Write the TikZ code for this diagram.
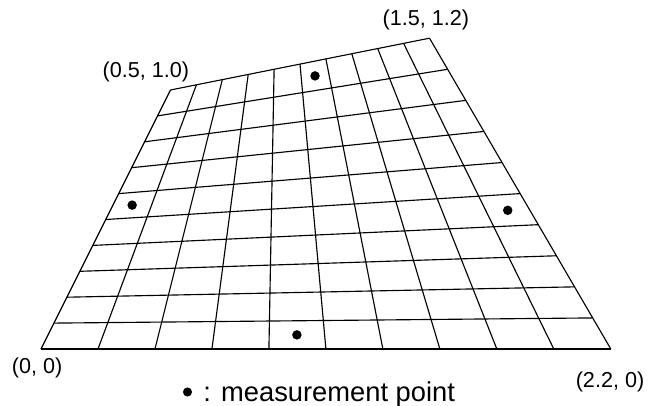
\documentclass[tikz,border=0pt]{standalone}
\usepackage{fontspec}
\setmainfont{Liberation Sans}
\usetikzlibrary{calc}

\begin{document}
\begin{tikzpicture}[scale=4,
    meshline/.style={line width=0.5pt},
    corner/.style={font=\fontsize{9.5}{11}\selectfont},
    mpoint/.style={fill=black}]
  \useasboundingbox (-0.1583,-0.2162) rectangle (2.3745,1.3475);

  % Corners of the region.
  \coordinate (A) at (0,0);
  \coordinate (B) at (2.2,0);
  \coordinate (C) at (1.5,1.2);
  \coordinate (D) at (0.5,1.0);

  % Mesh lines, 10 x 10 cells.
  \foreach \k in {0,...,10}{
    \pgfmathsetmacro{\t}{\k/10}
    \draw[meshline] ($(A)!\t!(B)$) -- ($(D)!\t!(C)$);
    \draw[meshline] ($(A)!\t!(D)$) -- ($(B)!\t!(C)$);
  }

  % Measurement points at cell centres (radius is scaled by 4).
  \foreach \u/\v [count=\n] in {0.55/0.95, 0.05/0.55, 0.95/0.45, 0.45/0.05}{
    \coordinate (m\n) at ($($(A)!\u!(B)$)!\v!($(D)!\u!(C)$)$);
    \fill[mpoint] (m\n) circle (0.52pt);
  }

  % Corner labels.
  \node[corner] (lA) at (-0.015,-0.073) {(0, 0)};
  \node[corner] (lB) at (2.197,-0.127) {(2.2, 0)};
  \node[corner] (lD) at (0.405,1.069) {(0.5, 1.0)};
  \node[corner] (lC) at (1.486,1.270) {(1.5, 1.2)};

  % Legend.
  \node[mpoint,circle,inner sep=0pt,minimum size=4pt] (key) at (0.5656,-0.166) {};
  \node[anchor=base west,font=\fontsize{12}{14}\selectfont,inner sep=0pt]
    (legend) at (0.6255,-0.2008) {: measurement point};
\end{tikzpicture}
\end{document}
